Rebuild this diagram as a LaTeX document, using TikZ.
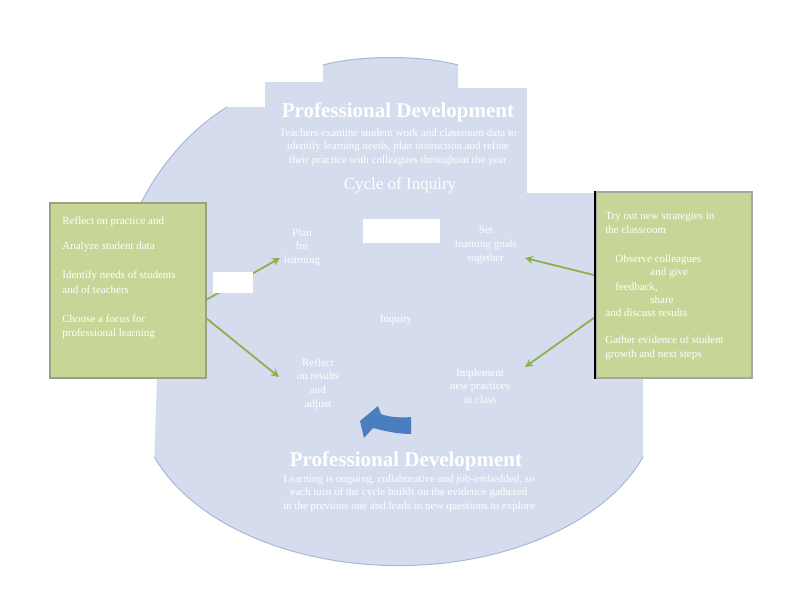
\documentclass[tikz,border=0pt]{standalone}
\usepackage{fontspec}
\setmainfont{Liberation Serif}
\usetikzlibrary{arrows.meta}

\definecolor{cyclebg}{HTML}{D4DCED}
\definecolor{cycleedge}{HTML}{A9B8D8}
\definecolor{notegreen}{HTML}{C7D697}
\definecolor{noteedge}{HTML}{9AA381}
\definecolor{linkgreen}{HTML}{8FB04B}
\definecolor{turnblue}{HTML}{4A7EBE}

\tikzset{
  faint/.style={text=white, align=center, inner sep=0pt, font=\fontsize{5.5}{6.8}\selectfont},
  bigtitle/.style={text=white, inner sep=0pt, font=\bfseries\fontsize{10.5}{12}\selectfont},
  notetext/.style={text=white, align=left, anchor=west, inner sep=0pt, font=\fontsize{5.5}{7.2}\selectfont},
  notebox/.style={fill=notegreen, draw=noteedge, line width=0.9pt, inner sep=0pt},
  link/.style={draw=linkgreen, line width=0.9pt, -{Stealth[length=4pt,width=4pt]}},
  edge/.style={draw=cycleedge, line width=0.5pt},
  blank/.style={fill=white, inner sep=0pt}
}

\begin{document}
\begin{tikzpicture}[x=0.5pt, y=-0.5pt]
\useasboundingbox (0,0) rectangle (800,600);

% Background shape of the cycle
\fill[cyclebg] (265,82) -- (323,82) -- (323,65) .. controls (360,55) and (421,55) .. (458,65)
  -- (458,88) -- (527,88) -- (527,193) -- (650,193) -- (650,378) -- (643,378) -- (643,457)
  arc[start angle=20, end angle=160, x radius=260, y radius=165]
  -- (157,378) -- (140,378) -- (140,205) .. controls (160,165) and (190,130) .. (227,107)
  -- (265,107) -- cycle;

% Outline of the rounded parts
\draw[edge] (323,65) .. controls (360,55) and (421,55) .. (458,65);
\draw[edge] (140,205) .. controls (160,165) and (190,130) .. (227,107);
\draw[edge] (643,457) arc[start angle=20, end angle=160, x radius=260, y radius=165];

% Top title block
\node[bigtitle] (top-title) at (398,112) {Professional Development};
\node[faint] (top-body) at (398,147) {Teachers examine student work and classroom data to\\
  identify learning needs, plan instruction and refine\\
  their practice with colleagues throughout the year};
\node[faint, font=\fontsize{8.5}{10}\selectfont] (top-cycle) at (400,185) {Cycle of Inquiry};

% Stages of the cycle
\node[faint] (plan) at (302,247) {Plan\\for\\learning};
\node[faint] (goals) at (486,245) {Set\\learning goals\\together};
\node[faint] (act) at (480,386) {Implement\\new practices\\in class};
\node[faint] (reflect) at (318,384) {Reflect\\on results\\and\\adjust};
\node[faint] (core) at (396,320) {Inquiry};

% Bottom title block
\node[bigtitle] (bottom-title) at (406,461) {Professional Development};
\node[faint] (bottom-body) at (409,493) {Learning is ongoing, collaborative and job-embedded, so\\
  each turn of the cycle builds on the evidence gathered\\
  in the previous one and leads to new questions to explore};

% Ends of the connectors
\coordinate (la) at (206,300);
\coordinate (lb) at (206,318);
\coordinate (ra) at (598,276);
\coordinate (rb) at (598,315);
\coordinate (ta) at (280,258);
\coordinate (tb) at (279,377);
\coordinate (tc) at (525,258);
\coordinate (td) at (525,367);

% Connectors from the notes to the stages
\draw[link] (la) -- (ta);
\draw[link] (lb) -- (tb);
\draw[link] (ra) -- (tc);
\draw[link] (rb) -- (td);

% White patches
\node[blank, minimum width=38.5pt, minimum height=12pt] (patch-top) at (401.5,231) {};
\node[blank, minimum width=20pt, minimum height=10.5pt] (patch-left) at (233,282.5) {};

% Note boxes
\node[notebox, minimum width=78pt, minimum height=87.5pt] (notes-left) at (128,290.5) {};
\node[notebox, draw=gray!70, minimum width=78pt, minimum height=93pt] (notes-right) at (674,285) {};
\draw[line width=1pt] (notes-right.north west) -- (notes-right.south west);

% Text of the left note
\node[notetext] (nl1) at (62,222) {Reflect on practice and};
\node[notetext] (nl2) at (62,247) {Analyze student data};
\node[notetext] (nl3) at (62,282) {Identify needs of students\\and of teachers};
\node[notetext] (nl4) at (62,327) {Choose a focus for\\professional learning};

% Text of the right note
\node[notetext] (nr1) at (605,223) {Try out new strategies in\\the classroom};
\node[notetext] (nr2) at (615,260) {Observe colleagues};
\node[notetext] (nr3) at (650,273) {and give};
\node[notetext] (nr4) at (615,287) {feedback,};
\node[notetext] (nr5) at (650,300) {share};
\node[notetext] (nr6) at (605,313) {and discuss results};
\node[notetext] (nr7) at (605,348) {Gather evidence of student\\growth and next steps};

% Curved arrow of the cycle
\fill[turnblue] (411,417) .. controls (400,418) and (388,417) .. (381,414) -- (378,406)
  -- (360,421) -- (364,438) -- (373,428) .. controls (384,431) and (398,434) .. (411,434) -- cycle;

\end{tikzpicture}
\end{document}
